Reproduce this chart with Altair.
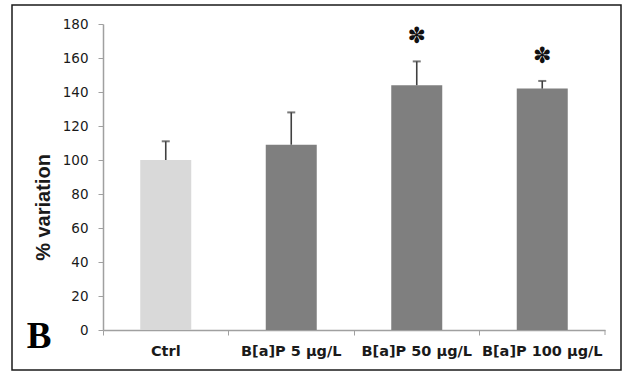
import altair as alt
import pandas as pd

categories = ["Ctrl", "B[a]P 5 µg/L", "B[a]P 50 µg/L", "B[a]P 100 µg/L"]
means = [100, 109, 144, 142]
err_top = [111, 128, 158, 146.5]
star_y = [None, None, 173, 161]
star_txt = ["", "", "✽", "✽"]
y_ticks = [0, 20, 40, 60, 80, 100, 120, 140, 160, 180]

df = pd.DataFrame({"cat": categories, "mean": means, "top": err_top,
                   "sy": star_y, "st": star_txt})

W, H = 502, 306
x_axis = alt.Axis(title=None, labelAngle=0, bandPosition=0, tickSize=5,
                  tickColor="#a0a0a0", domainColor="#a0a0a0", domainWidth=1.5,
                  labelFont="DejaVu Sans", labelFontWeight="bold", labelFontSize=14.5,
                  labelColor="#1a1a1a", labelPadding=9, labelOverlap=False)
y_axis = alt.Axis(title="% variation", values=y_ticks, grid=False, tickSize=5,
                  tickColor="#a0a0a0", domainColor="#a0a0a0", domainWidth=1.5,
                  labelFont="DejaVu Sans", labelFontSize=13.5, labelColor="#1a1a1a",
                  labelPadding=10, labelOverlap=False, labelFlush=False,
                  titleFont="Liberation Sans", titleFontSize=20,
                  titleFontWeight="bold", titleColor="#1a1a1a", titleX=-60,
                  titleY=183, titleAngle=-90, titleAlign="center",
                  titleBaseline="middle")
x_scale = alt.Scale(paddingInner=0, paddingOuter=0)
y_scale = alt.Scale(domain=[0, 180], nice=False)


def X(**kw):
    return alt.X("cat:N", sort=categories, scale=x_scale, axis=x_axis, **kw)


def Y(field):
    return alt.Y(field, scale=y_scale, axis=y_axis, title="% variation")


base = alt.Chart(df)

bars = base.mark_bar(size=51).encode(
    x=X(), y=Y("mean:Q"),
    color=alt.Color("cat:N", scale=alt.Scale(domain=categories,
                    range=["#d9d9d9", "#7f7f7f", "#7f7f7f", "#7f7f7f"]), legend=None))

err = base.mark_rule(color="#404040", strokeWidth=1.6).encode(
    x=X(), y=Y("mean:Q"), y2="top:Q")
cap = base.mark_tick(color="#404040", size=8, thickness=2, orient="horizontal").encode(
    x=X(), y=Y("top:Q"))

stars = base.mark_text(font="DejaVu Sans", fontSize=22, fontWeight="bold",
                       color="#111111", baseline="middle").encode(
    x=X(), y=Y("sy:Q"), text="st:N")

last_tick = alt.Chart(df).transform_filter(
    alt.datum.cat == categories[-1]).mark_rule(color="#a0a0a0", strokeWidth=1).encode(
    x=X(bandPosition=1),
    y=alt.value(H), y2=alt.value(H + 5))

frame_df = pd.DataFrame({"k": [0]})
frame = alt.Chart(frame_df).mark_rect(fillOpacity=0, stroke="#1a1a1a", strokeWidth=1.5,
                                      clip=False).encode(
    x=alt.value(-91), x2=alt.value(518), y=alt.value(-19), y2=alt.value(346))

letter = alt.Chart(frame_df).mark_text(text="B", font="Liberation Serif", fontSize=37,
                                       fontWeight="bold", color="#000000",
                                       align="center", baseline="alphabetic").encode(
    x=alt.value(-64), y=alt.value(324))

chart = alt.layer(bars, err, cap, stars, last_tick, frame, letter).properties(
    width=W, height=H,
    autosize=alt.AutoSizeParams(type="none"),
    padding={"left": 103, "top": 24, "right": 19, "bottom": 44},
    background="white",
).configure_view(stroke=None)

chart.save("out.html", embed_options={"renderer": "svg", "actions": False})
